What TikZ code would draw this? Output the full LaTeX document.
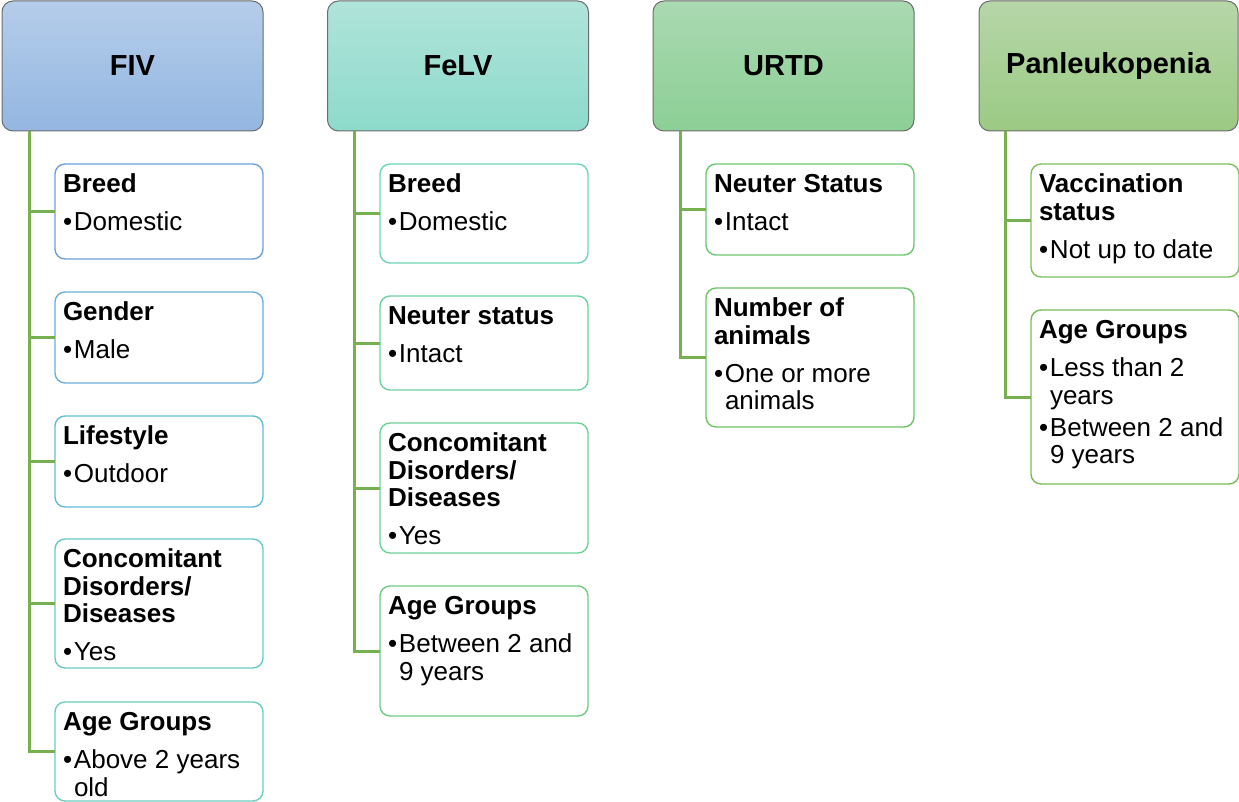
\documentclass[tikz,border=0pt]{standalone}
\usepackage{fontspec}
\setmainfont{Liberation Sans}
\definecolor{trunk}{HTML}{77B04E}
\definecolor{hdrline}{HTML}{6B6B6B}
\definecolor{fivA}{HTML}{B5CDEA}\definecolor{fivB}{HTML}{93B6E1}
\definecolor{felA}{HTML}{B0E4DA}\definecolor{felB}{HTML}{8DDACB}
\definecolor{urtA}{HTML}{AAD9B2}\definecolor{urtB}{HTML}{8CCF95}
\definecolor{panA}{HTML}{B6D6A8}\definecolor{panB}{HTML}{9BCA84}
\definecolor{cA}{HTML}{6E9FD8}\definecolor{cB}{HTML}{6BAFD8}
\definecolor{cC}{HTML}{62BDD6}\definecolor{cD}{HTML}{67CAC9}
\definecolor{cE}{HTML}{6DCDBF}\definecolor{cF}{HTML}{6DD4B4}
\definecolor{cG}{HTML}{6CD1A0}\definecolor{cH}{HTML}{6ED198}
\definecolor{cI}{HTML}{6FCC80}\definecolor{cJ}{HTML}{6CC870}
\definecolor{cK}{HTML}{6DC466}\definecolor{cL}{HTML}{7DC05C}
\definecolor{cM}{HTML}{78BA55}
\newcommand{\bul}[1]{\par\hangindent=11pt\hangafter=1\noindent\makebox[11pt][l]{\textbullet}#1}
\newcommand{\ttl}[1]{\noindent\rule{0pt}{28.5pt}\textbf{#1}\par\vspace{10.5pt}}
\newcommand{\leafcontent}[2]{\parbox[b][#1][t]{192pt}{\raggedright #2}}
\tikzset{
  hdr/.style 2 args={draw=hdrline, line width=1pt, rounded corners=11pt,
    top color=#1, bottom color=#2, minimum width=261pt, minimum height=130pt,
    outer sep=0pt, font=\fontsize{29pt}{32pt}\selectfont\bfseries},
  leafbox/.style={draw=#1, line width=1.4pt, rounded corners=10pt, fill=white,
    inner xsep=8pt, inner ysep=0pt, outer sep=0pt, anchor=north west,
    font=\fontsize{26pt}{27.5pt}\selectfont},
  conn/.style={draw=trunk, line width=3pt}
}
\begin{document}
\begin{tikzpicture}[x=1pt,y=-1pt]
\useasboundingbox (0,0) rectangle (1239,802);
% headers
\node[hdr={fivA}{fivB}] (fiv) at (132.5,66) {FIV};
\node[hdr={felA}{felB}] (felv) at (458,66) {FeLV};
\node[hdr={urtA}{urtB}] (urtd) at (783.5,66) {URTD};
\node[hdr={panA}{panB}, minimum width=259pt] (pan) at (1108.5,66) {Panleukopenia};
% FIV column
\node[leafbox=cA] (fiv1) at (55,164) {\leafcontent{95pt}{\ttl{Breed}\bul{Domestic}}};
\node[leafbox=cB] (fiv2) at (55,292) {\leafcontent{91pt}{\ttl{Gender}\bul{Male}}};
\node[leafbox=cC] (fiv3) at (55,416) {\leafcontent{91pt}{\ttl{Lifestyle}\bul{Outdoor}}};
\node[leafbox=cD] (fiv4) at (55,539) {\leafcontent{129pt}{\ttl{Concomitant\\Disorders/\\Diseases}\bul{Yes}}};
\node[leafbox=cE] (fiv5) at (55,702) {\leafcontent{99pt}{\ttl{Age Groups}\bul{Above 2 years\break old}}};
% FeLV column
\node[leafbox=cF] (fel1) at (380,164) {\leafcontent{99pt}{\ttl{Breed}\bul{Domestic}}};
\node[leafbox=cG] (fel2) at (380,296) {\leafcontent{94pt}{\ttl{Neuter status}\bul{Intact}}};
\node[leafbox=cH] (fel3) at (380,423) {\leafcontent{130pt}{\ttl{Concomitant\\Disorders/\\Diseases}\bul{Yes}}};
\node[leafbox=cI] (fel4) at (380,586) {\leafcontent{130pt}{\ttl{Age Groups}\bul{Between 2 and\break 9 years}}};
% URTD column
\node[leafbox=cJ] (urt1) at (706,164) {\leafcontent{91pt}{\ttl{Neuter Status}\bul{Intact}}};
\node[leafbox=cK] (urt2) at (706,288) {\leafcontent{139pt}{\ttl{Number of\\animals}\bul{One or more\break animals}}};
% Panleukopenia column
\node[leafbox=cL] (pan1) at (1031,164) {\leafcontent{113pt}{\ttl{Vaccination\\status}\bul{Not up to date}}};
\node[leafbox=cM] (pan2) at (1031,310) {\leafcontent{174pt}{\ttl{Age Groups}\bul{Less than 2\break years}\par\vspace{4.5pt}\bul{Between 2 and\break 9 years}}};
% connectors
\foreach \c in {fiv1,fiv2,fiv3,fiv4,fiv5}
  \draw[conn] ([xshift=27pt]fiv.south west) |- (\c.west);
\foreach \c in {fel1,fel2,fel3,fel4}
  \draw[conn] ([xshift=27pt]felv.south west) |- (\c.west);
\foreach \c in {urt1,urt2}
  \draw[conn] ([xshift=27pt]urtd.south west) |- (\c.west);
\foreach \c in {pan1,pan2}
  \draw[conn] ([xshift=26pt]pan.south west) |- (\c.west);
\end{tikzpicture}
\end{document}
